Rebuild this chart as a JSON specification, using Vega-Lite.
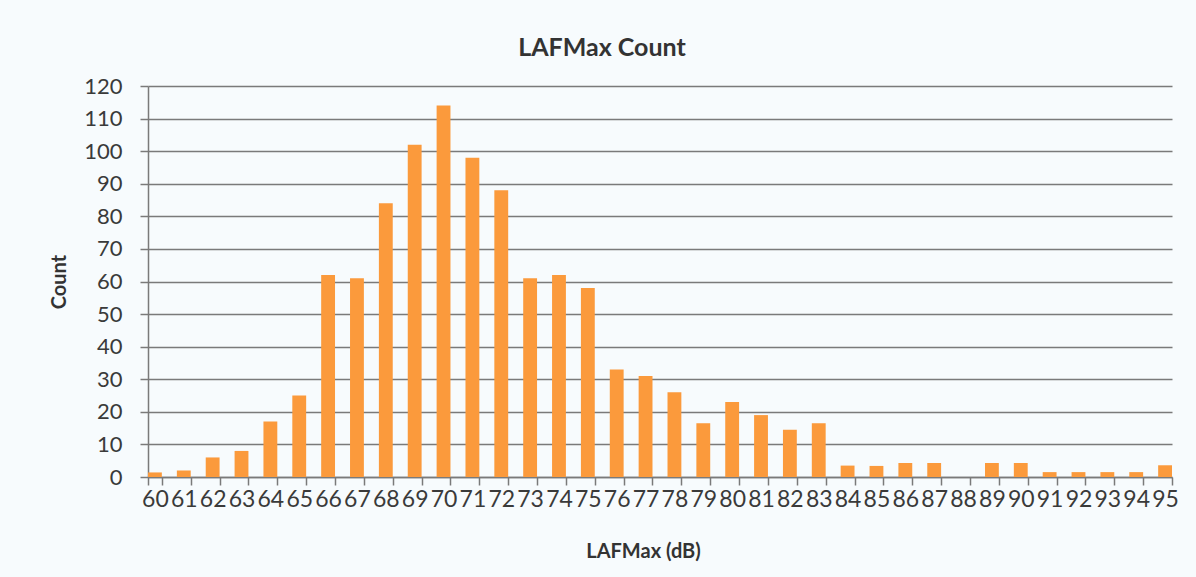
{
  "$schema": "https://vega.github.io/schema/vega-lite/v6.json",
  "autosize": {"type": "none"},
  "padding": {"left": 148, "top": 86, "right": 24, "bottom": 100},
  "width": 1024,
  "height": 391,
  "background": "#f7fbfd",
  "title": {
    "text": "LAFMax Count",
    "font": "Lato",
    "fontSize": 25,
    "fontWeight": "bold",
    "color": "#333333",
    "anchor": "middle",
    "dx": -58,
    "offset": 14
  },
  "data": {
    "values": [
      {"level": 60, "count": 1.4},
      {"level": 61, "count": 2},
      {"level": 62, "count": 6},
      {"level": 63, "count": 8},
      {"level": 64, "count": 17},
      {"level": 65, "count": 25},
      {"level": 66, "count": 62},
      {"level": 67, "count": 61},
      {"level": 68, "count": 84},
      {"level": 69, "count": 102},
      {"level": 70, "count": 114},
      {"level": 71, "count": 98},
      {"level": 72, "count": 88},
      {"level": 73, "count": 61},
      {"level": 74, "count": 62},
      {"level": 75, "count": 58},
      {"level": 76, "count": 33},
      {"level": 77, "count": 31},
      {"level": 78, "count": 26},
      {"level": 79, "count": 16.5},
      {"level": 80, "count": 23},
      {"level": 81, "count": 19},
      {"level": 82, "count": 14.5},
      {"level": 83, "count": 16.5},
      {"level": 84, "count": 3.5},
      {"level": 85, "count": 3.4},
      {"level": 86, "count": 4.3},
      {"level": 87, "count": 4.3},
      {"level": 88, "count": 0},
      {"level": 89, "count": 4.3},
      {"level": 90, "count": 4.3},
      {"level": 91, "count": 1.5},
      {"level": 92, "count": 1.5},
      {"level": 93, "count": 1.5},
      {"level": 94, "count": 1.5},
      {"level": 95, "count": 3.6}
    ]
  },
  "mark": {"type": "bar", "color": "#fb9a3c"},
  "encoding": {
    "x": {
      "field": "level",
      "type": "ordinal",
      "sort": "ascending",
      "scale": {"paddingInner": 0.52, "paddingOuter": 0},
      "axis": {
        "title": "LAFMax (dB)",
        "titleFont": "Lato",
        "titleFontSize": 20,
        "titleFontWeight": "bold",
        "titleColor": "#333333",
        "titlePadding": 30,
        "titleX": 495,
        "labelFont": "Lato",
        "labelFontSize": 23,
        "labelColor": "#3a3a3a",
        "labelAngle": 0,
        "labelOverlap": false,
        "labelPadding": 3,
        "tickBand": "extent",
        "tickSize": 8,
        "tickColor": "#7a7a7a",
        "tickWidth": 1.5,
        "domainColor": "#7a7a7a",
        "domainWidth": 1.5,
        "grid": false
      }
    },
    "y": {
      "field": "count",
      "type": "quantitative",
      "scale": {"domain": [0, 120], "nice": false},
      "axis": {
        "title": "Count",
        "titleFont": "Lato",
        "titleFontSize": 20,
        "titleFontWeight": "bold",
        "titleColor": "#333333",
        "titlePadding": 14,
        "labelFont": "Lato",
        "labelFontSize": 22,
        "labelColor": "#3a3a3a",
        "labelPadding": 18,
        "values": [0, 10, 20, 30, 40, 50, 60, 70, 80, 90, 100, 110, 120],
        "tickSize": 8,
        "tickColor": "#7a7a7a",
        "tickWidth": 1.5,
        "domainColor": "#7a7a7a",
        "domainWidth": 1.5,
        "grid": true,
        "gridColor": "#7a7a7a",
        "gridWidth": 1.5
      }
    }
  },
  "config": {
    "view": {"stroke": null}
  }
}
